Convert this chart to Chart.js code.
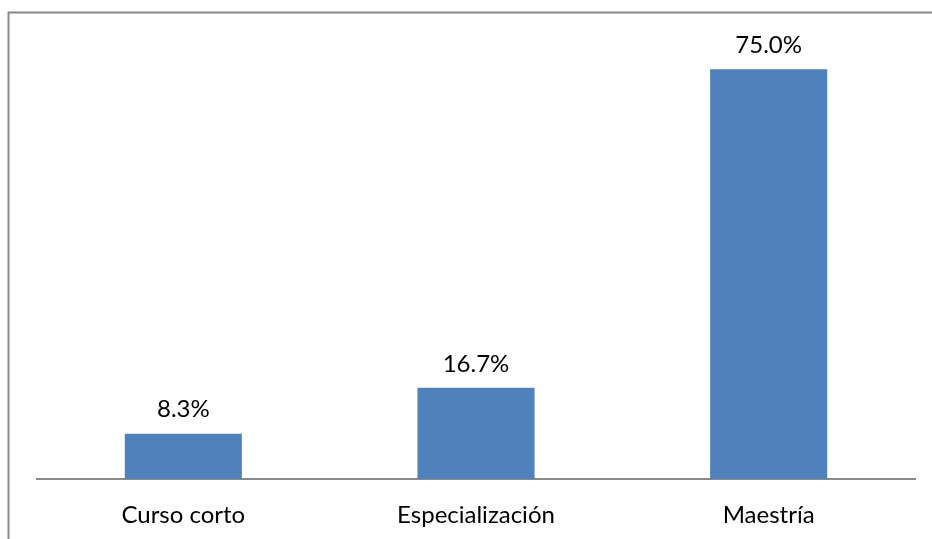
<!DOCTYPE html>
<html><head><meta charset="utf-8">
<script src="https://cdn.jsdelivr.net/npm/chart.js@4"></script>
<style>html,body{margin:0;padding:0;background:#fff;}#w{width:932px;height:539px;}</style>
</head><body><div id="w"><canvas id="c"></canvas></div>
<script>
const categories = ['Curso corto', 'Especialización', 'Maestría'];
const values = [8.3, 16.7, 75.0];
const valueLabels = ['8.3%', '16.7%', '75.0%'];

const FONT = 'Lato, "Open Sans", sans-serif';

const frame = {
  id: 'frame',
  beforeDraw(chart) {
    const ctx = chart.ctx;
    ctx.save();
    ctx.strokeStyle = '#8a8a8a';
    ctx.lineWidth = 2;
    ctx.beginPath();
    ctx.moveTo(8.5, 539);
    ctx.lineTo(8.5, 12.5);
    ctx.lineTo(932, 12.5);
    ctx.stroke();
    ctx.restore();
  }
};
const labelsPlugin = {
  id: 'vlabels',
  afterDatasetsDraw(chart) {
    const ctx = chart.ctx;
    const meta = chart.getDatasetMeta(0);
    ctx.save();
    ctx.fillStyle = '#000';
    ctx.font = '24px ' + FONT;
    ctx.textAlign = 'center';
    ctx.textBaseline = 'middle';
    meta.data.forEach((bar, i) => {
      ctx.fillText(valueLabels[i], bar.x, bar.y - 24);
    });
    ctx.restore();
  }
};

new Chart(document.getElementById('c'), {
  type: 'bar',
  data: {
    labels: categories,
    datasets: [{
      data: values,
      backgroundColor: '#4f81bd',
      categoryPercentage: 1,
      barPercentage: 0.4
    }]
  },
  options: {
    responsive: true,
    maintainAspectRatio: false,
    animation: false,
    layout: { padding: { left: 37, right: 17, top: 42, bottom: 0 } },
    plugins: { legend: { display: false }, tooltip: { enabled: false } },
    scales: {
      y: { display: false, min: 0, max: 80,
           afterFit(s) { s.width = 0; } },
      x: {
        grid: { display: false, drawTicks: false },
        border: { display: true, color: '#8a8a8a', width: 2 },
        ticks: { color: '#000', font: { family: FONT, size: 24 }, padding: 22 },
        afterFit(s) { s.height = 60; }
      }
    }
  },
  plugins: [frame, labelsPlugin]
});
</script></body></html>
